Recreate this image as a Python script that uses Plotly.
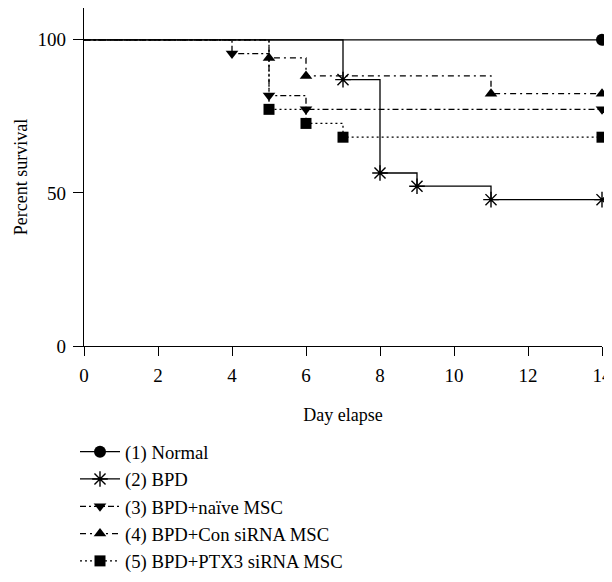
import plotly.graph_objects as go

# Kaplan-Meier step data (day, percent survival)
normal_days = [0, 14]
normal_surv = [100, 100]

bpd_days = [0, 7, 8, 9, 11, 14]
bpd_surv = [100, 87.0, 56.5, 52.2, 47.8, 47.8]

naive_days = [0, 4, 5, 6, 14]
naive_surv = [100, 95.5, 81.8, 77.3, 77.3]

con_days = [0, 5, 6, 11, 14]
con_surv = [100, 94.1, 88.2, 82.4, 82.4]

ptx3_days = [0, 5, 6, 7, 14]
ptx3_surv = [100, 77.3, 72.7, 68.2, 68.2]

names = ["(1) Normal", "(2) BPD", "(3) BPD+naïve MSC",
         "(4) BPD+Con siRNA MSC", "(5) BPD+PTX3 siRNA MSC"]

series = [
    (normal_days, normal_surv, "solid", "circle", 12, False),
    (bpd_days, bpd_surv, "solid", "asterisk-open", 13, True),
    (naive_days, naive_surv, "6px,3px,2px,3px", "triangle-down", 11, True),
    (con_days, con_surv, "6px,4px,2px,4px", "triangle-up", 11, True),
    (ptx3_days, ptx3_surv, "2px,3px", "square", 11, True),
]

FONT = "Liberation Serif"
fig = go.Figure()

for i, (d, s, dash, sym, ms, all_marks) in enumerate(series):
    grp = f"g{i}"
    fig.add_trace(go.Scatter(x=d, y=s, mode="lines", line_shape="hv",
                             line=dict(color="black", width=1.3, dash=dash),
                             showlegend=False, legendgroup=grp, hoverinfo="skip",
                             cliponaxis=False))
    mx = d[1:] if all_marks else d[-1:]
    my = s[1:] if all_marks else s[-1:]
    mline = dict(color="black", width=1.4 if sym == "asterisk-open" else 0)
    fig.add_trace(go.Scatter(x=mx, y=my, mode="markers",
                             marker=dict(symbol=sym, size=ms, color="black", line=mline),
                             showlegend=False, legendgroup=grp, cliponaxis=False))
    fig.add_trace(go.Scatter(x=[None], y=[None], mode="lines+markers", name=names[i],
                             line=dict(color="black", width=1.3, dash=dash),
                             marker=dict(symbol=sym, size=ms, color="black", line=mline),
                             legendgroup=grp))

H = 566
fig.update_layout(
    width=604, height=H,
    margin=dict(l=76, r=10, t=0, b=H - 338),
    paper_bgcolor="white", plot_bgcolor="white",
    font=dict(family=FONT, size=18, color="black"),
    xaxis=dict(range=[0, 14], tickvals=[0, 2, 4, 6, 8, 10, 12, 14],
               showline=True, linecolor="black", linewidth=1.3,
               ticks="outside", ticklen=9, tickcolor="black", tickwidth=1.2,
               tickfont=dict(size=19), automargin=False, ticklabelstandoff=3,
               showgrid=False, zeroline=False,
               title=dict(text="Day elapse", standoff=23, font=dict(size=18))),
    yaxis=dict(range=[0, 110.4], tickvals=[0, 50, 100],
               showline=True, linecolor="black", linewidth=1.3,
               ticks="outside", ticklen=10, tickcolor="black", tickwidth=1.2,
               tickfont=dict(size=19), automargin=False, ticklabelstandoff=3,
               showgrid=False, zeroline=False,
               title=dict(text="Percent survival", standoff=5, font=dict(size=18))),
    legend=dict(x=-9 / 518, xanchor="left", yref="container", y=1 - 425 / H, yanchor="top",
                traceorder="grouped", tracegroupgap=0,
                font=dict(family=FONT, size=18.7), itemwidth=40,
                bgcolor="rgba(0,0,0,0)"),
)

fig.write_html("out.html")
